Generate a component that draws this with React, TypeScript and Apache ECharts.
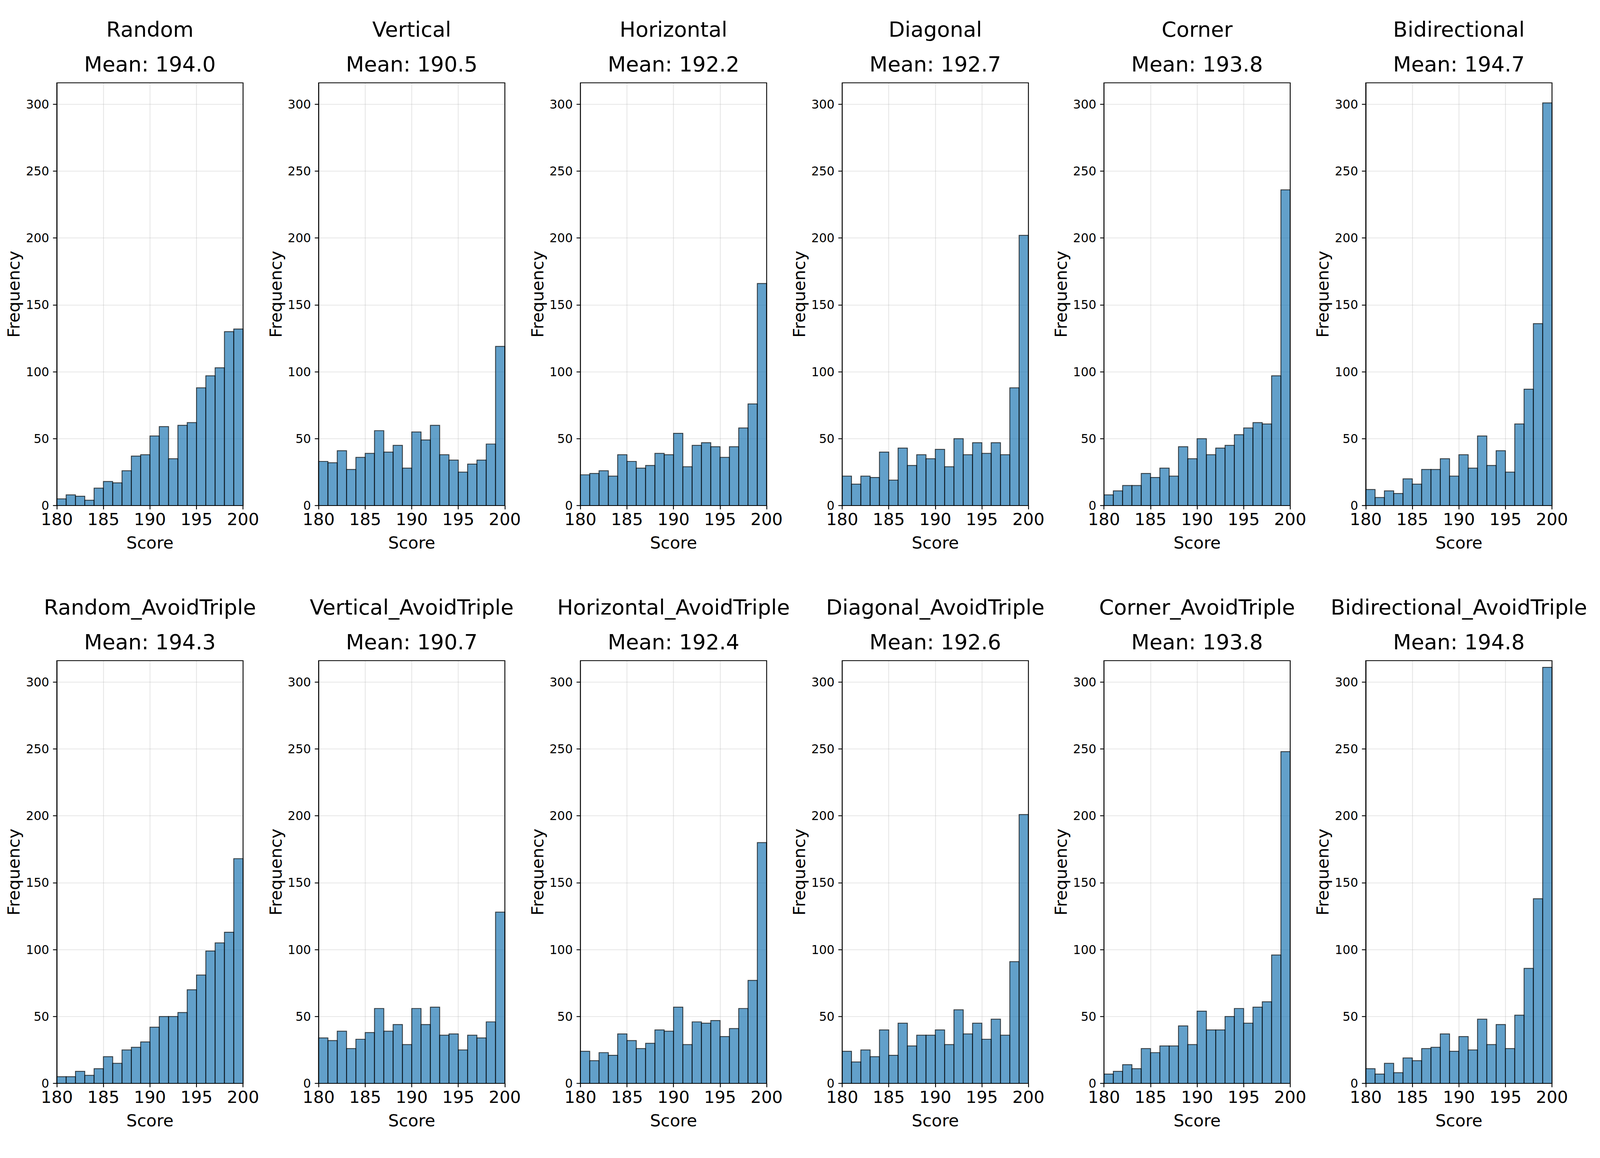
import React, { useEffect, useRef, useState } from "react";
import * as echarts from "echarts";

// ---- data ----
const BIN_EDGES = [180, 181, 182, 183, 184, 185, 186, 187, 188, 189, 190, 191, 192, 193, 194, 195, 196, 197, 198, 199, 200];

const RANDOM = [5, 8, 7, 4, 13, 18, 17, 26, 37, 38, 52, 59, 35, 60, 62, 88, 97, 103, 130, 132];
const VERTICAL = [33, 32, 41, 27, 36, 39, 56, 40, 45, 28, 55, 49, 60, 38, 34, 25, 31, 34, 46, 119];
const HORIZONTAL = [23, 24, 26, 22, 38, 33, 28, 30, 39, 38, 54, 29, 45, 47, 44, 36, 44, 58, 76, 166];
const DIAGONAL = [22, 16, 22, 21, 40, 19, 43, 30, 38, 35, 42, 29, 50, 38, 47, 39, 47, 38, 88, 202];
const CORNER = [8, 11, 15, 15, 24, 21, 28, 22, 44, 35, 50, 38, 43, 45, 53, 58, 62, 61, 97, 236];
const BIDIRECTIONAL = [12, 6, 11, 9, 20, 16, 27, 27, 35, 22, 38, 28, 52, 30, 41, 25, 61, 87, 136, 301];

const RANDOM_AT = [5, 5, 9, 6, 11, 20, 15, 25, 27, 31, 42, 50, 50, 53, 70, 81, 99, 105, 113, 168];
const VERTICAL_AT = [34, 32, 39, 26, 33, 38, 56, 39, 44, 29, 56, 44, 57, 36, 37, 25, 36, 34, 46, 128];
const HORIZONTAL_AT = [24, 17, 23, 21, 37, 32, 26, 30, 40, 39, 57, 29, 46, 45, 47, 35, 41, 56, 77, 180];
const DIAGONAL_AT = [24, 16, 25, 20, 40, 21, 45, 28, 36, 36, 40, 29, 55, 37, 45, 33, 48, 36, 91, 201];
const CORNER_AT = [7, 9, 14, 11, 26, 23, 28, 28, 43, 29, 54, 40, 40, 50, 56, 45, 57, 61, 96, 248];
const BIDIRECTIONAL_AT = [11, 7, 15, 8, 19, 17, 26, 27, 37, 24, 35, 25, 48, 29, 44, 26, 51, 86, 138, 311];

const PANEL_NAMES = [
  "Random", "Vertical", "Horizontal", "Diagonal", "Corner", "Bidirectional",
  "Random_AvoidTriple", "Vertical_AvoidTriple", "Horizontal_AvoidTriple",
  "Diagonal_AvoidTriple", "Corner_AvoidTriple", "Bidirectional_AvoidTriple",
];
const PANEL_MEANS = [194.0, 190.5, 192.2, 192.7, 193.8, 194.7, 194.3, 190.7, 192.4, 192.6, 193.8, 194.8];
const PANEL_COUNTS = [
  RANDOM, VERTICAL, HORIZONTAL, DIAGONAL, CORNER, BIDIRECTIONAL,
  RANDOM_AT, VERTICAL_AT, HORIZONTAL_AT, DIAGONAL_AT, CORNER_AT, BIDIRECTIONAL_AT,
];

const X_TICKS = [180, 185, 190, 195, 200];
const Y_TICKS = [0, 50, 100, 150, 200, 250, 300];
const Y_MAX = 316;

// ---- layout (in reference pixels, mapped onto the viewport) ----
const W = 6066;
const H = 2964;
const GRID_LEFT0 = 215.5;
const GRID_STEP = 992.5;
const GRID_W = 706;
const GRID_H = 1082;
const ROW_TOPS = [212, 1691];
const FONT = "DejaVu Sans";
const LW = 3.3;

export default function App() {
  const ref = useRef<HTMLDivElement>(null);
  const [dims] = useState(() => {
    const vw = typeof window !== "undefined" ? window.innerWidth : W;
    const vh = typeof window !== "undefined" ? window.innerHeight : H;
    const sx = Math.min(1, vw / W);
    const sy = Math.min(1, vh / H);
    return { sx, sy };
  });

  useEffect(() => {
    document.body.style.margin = "0";
    document.body.style.overflow = "hidden";
    if (!ref.current) return;
    const { sx, sy } = dims;
    const f = Math.min(sx, sy); // title font / stroke scale
    const fT = Math.min(sy, sx * 1.1); // tick and axis-name font scale
    const chart = echarts.init(ref.current, undefined, { renderer: "svg" });
    const X = (v: number) => v * sx;
    const Y = (v: number) => v * sy;
    const F = (v: number) => v * f;
    const T = (v: number) => v * fT;

    const xTickFont = T(58);
    const yTickFont = T(42);
    const nameFont = T(58);
    const tickLen = F(14.6);
    const xLabelMargin = tickLen + Y(4);
    const xNameGap = xLabelMargin + xTickFont * 1.2 + Y(8);
    const yLabelMargin = X(29);
    const yNameGap = Math.max(X(124), yLabelMargin + yTickFont * 0.636 * 3 + X(14));

    const grids: any[] = [];
    const xAxes: any[] = [];
    const yAxes: any[] = [];
    const series: any[] = [];
    const titles: any[] = [];
    const frames: any[] = [];

    PANEL_NAMES.forEach((name, i) => {
      const col = i % 6;
      const row = Math.floor(i / 6);
      const left = GRID_LEFT0 + col * GRID_STEP;
      const top = ROW_TOPS[row];
      grids.push({ left: X(left), top: Y(top), width: X(GRID_W), height: Y(GRID_H), containLabel: false });

      xAxes.push({
        gridIndex: i,
        type: "value",
        min: 180,
        max: 200,
        interval: 5,
        name: "Score",
        nameLocation: "middle",
        nameGap: xNameGap,
        nameTextStyle: { fontFamily: FONT, fontSize: nameFont, color: "#000" },
        axisLine: { show: true, lineStyle: { color: "#000", width: F(LW) } },
        axisTick: { show: true, inside: false, length: tickLen, lineStyle: { color: "#000", width: F(LW) }, customValues: X_TICKS },
        axisLabel: { show: true, margin: xLabelMargin, fontFamily: FONT, fontSize: xTickFont, color: "#000", customValues: X_TICKS },
        splitLine: { show: true, lineStyle: { color: "#b0b0b0", opacity: 0.3, width: F(LW) } },
      });

      yAxes.push({
        gridIndex: i,
        type: "value",
        min: 0,
        max: Y_MAX,
        interval: 50,
        name: "Frequency",
        nameLocation: "middle",
        nameGap: yNameGap,
        nameTextStyle: { fontFamily: FONT, fontSize: nameFont, color: "#000" },
        axisLine: { show: true, lineStyle: { color: "#000", width: F(LW) } },
        axisTick: { show: true, inside: false, length: tickLen, lineStyle: { color: "#000", width: F(LW) }, customValues: Y_TICKS },
        axisLabel: { show: true, margin: yLabelMargin, fontFamily: FONT, fontSize: yTickFont, color: "#000", customValues: Y_TICKS },
        splitLine: { show: true, lineStyle: { color: "#b0b0b0", opacity: 0.3, width: F(LW) } },
      });

      const counts = PANEL_COUNTS[i];
      const data = counts.map((c, j) => [BIN_EDGES[j], BIN_EDGES[j + 1], c]);
      series.push({
        type: "custom",
        xAxisIndex: i,
        yAxisIndex: i,
        encode: { x: [0, 1], y: 2 },
        data,
        renderItem: (_params: any, api: any) => {
          const p0 = api.coord([api.value(0), api.value(2)]);
          const p1 = api.coord([api.value(1), 0]);
          return {
            type: "rect",
            shape: { x: p0[0], y: p0[1], width: p1[0] - p0[0], height: p1[1] - p0[1] },
            style: { fill: "#1f77b4", stroke: "#000", lineWidth: F(LW), opacity: 0.7 },
          };
        },
      });

      titles.push({
        text: `${name}\nMean: ${PANEL_MEANS[i].toFixed(1)}`,
        left: X(left + GRID_W / 2),
        top: Y(top - 181),
        textAlign: "center",
        padding: 0,
        textStyle: { fontFamily: FONT, fontSize: F(80), fontWeight: "normal", color: "#000", lineHeight: Y(89) },
      });

      frames.push({
        type: "rect",
        shape: { x: X(left), y: Y(top), width: X(GRID_W), height: Y(GRID_H) },
        style: { fill: "none", stroke: "#000", lineWidth: F(LW) },
        z: 100,
        silent: true,
      });
    });

    chart.setOption({
      animation: false,
      backgroundColor: "#fff",
      textStyle: { fontFamily: FONT },
      title: titles,
      grid: grids,
      xAxis: xAxes,
      yAxis: yAxes,
      series,
      graphic: frames,
    });

    return () => chart.dispose();
  }, [dims]);

  return <div ref={ref} style={{ width: W * dims.sx, height: H * dims.sy }} />;
}
